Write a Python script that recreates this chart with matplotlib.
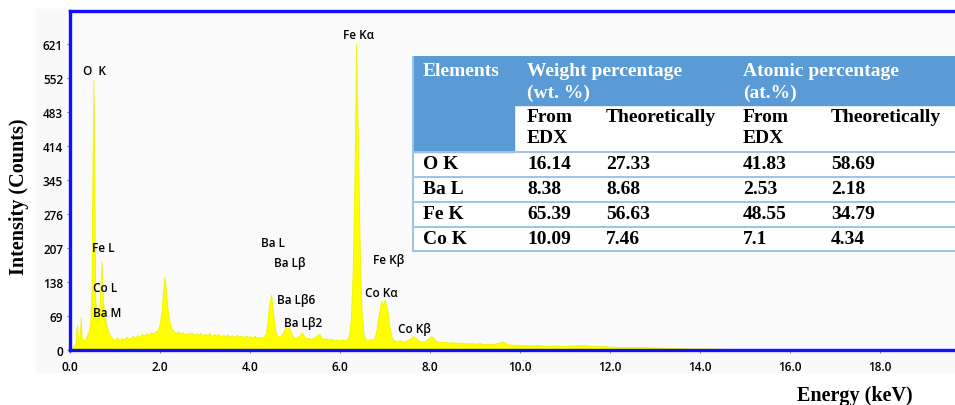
import matplotlib.pyplot as plt
from matplotlib.patches import Rectangle

# EDX spectrum (keV, counts)
energy_kev = [
    0.00, 0.04, 0.08, 0.12, 0.14, 0.16, 0.18, 0.20, 0.22, 0.24, 0.26, 0.30, 0.34, 0.38, 0.42, 0.45,
    0.48, 0.50, 0.52, 0.54, 0.56, 0.58, 0.60, 0.62, 0.64, 0.66, 0.68, 0.70, 0.72, 0.74, 0.76, 0.80,
    0.84, 0.88, 0.92, 0.96, 1.00,
    1.05, 1.10, 1.15, 1.20, 1.25, 1.30, 1.35, 1.40, 1.45, 1.50, 1.55, 1.60, 1.65, 1.70, 1.75, 1.80,
    1.85, 1.90, 1.95,
    2.00, 2.04, 2.07, 2.10, 2.13, 2.16, 2.20, 2.25, 2.30,
    2.35, 2.40, 2.45, 2.50, 2.55, 2.60, 2.65, 2.70, 2.75, 2.80, 2.85, 2.90, 2.95, 3.00, 3.05, 3.10,
    3.15, 3.20, 3.25, 3.30, 3.35, 3.40, 3.45, 3.50, 3.55, 3.60, 3.65, 3.70, 3.75, 3.80, 3.85, 3.90,
    3.95, 4.00, 4.05, 4.10, 4.15, 4.20, 4.25, 4.30, 4.35,
    4.39, 4.42, 4.45, 4.47, 4.49, 4.52, 4.55, 4.60, 4.65, 4.70, 4.75, 4.79, 4.83, 4.87, 4.91, 4.96,
    5.00, 5.05, 5.10, 5.15, 5.20, 5.25, 5.30, 5.35, 5.40, 5.45, 5.50, 5.54, 5.58, 5.62, 5.68, 5.74,
    5.80, 5.86, 5.92, 5.98, 6.04, 6.10, 6.16,
    6.20, 6.24, 6.28, 6.32, 6.36, 6.40, 6.44, 6.48, 6.52, 6.56, 6.62, 6.68, 6.74, 6.78,
    6.82, 6.86, 6.90, 6.93, 6.96, 6.99, 7.02, 7.06, 7.10, 7.14, 7.18,
    7.25, 7.32, 7.40, 7.48, 7.55, 7.62, 7.66, 7.72, 7.80, 7.88, 7.95, 8.02, 8.07, 8.14, 8.22, 8.30,
    8.40, 8.50, 8.60, 8.70, 8.80, 8.90, 9.00, 9.10, 9.20, 9.30, 9.40, 9.50, 9.58, 9.62, 9.68, 9.75,
    9.85, 10.0, 10.2, 10.4, 10.6, 10.8, 11.0, 11.2, 11.4, 11.6, 11.8, 12.0, 12.3, 12.6, 13.0, 13.4,
    13.8, 14.2, 14.6, 15.0, 15.5, 16.0, 17.0, 18.0, 19.8,
]
counts = [
    0, 3, 8, 12, 40, 51, 20, 12, 30, 67, 25, 18, 22, 30, 38, 55,
    120, 380, 548, 360, 110, 70, 55, 75, 60, 90, 140, 179, 120, 95, 70, 55,
    40, 32, 26, 22, 20,
    26, 18, 24, 21, 27, 22, 25, 29, 24, 30, 27, 33, 29, 34, 31, 36,
    33, 38, 40,
    55, 85, 120, 149, 125, 90, 62, 45, 38,
    34, 38, 33, 36, 31, 35, 32, 36, 30, 34, 31, 35, 29, 33, 30, 34,
    28, 32, 29, 33, 27, 31, 28, 32, 27, 30, 26, 31, 27, 29, 25, 30,
    26, 28, 24, 29, 25, 27, 24, 28, 32,
    55, 85, 105, 112, 95, 70, 45, 30, 26, 30, 38, 48, 52, 46, 35, 27,
    24, 26, 30, 35, 28, 23, 25, 22, 24, 26, 31, 33, 26, 22, 24, 21,
    23, 20, 22, 19, 21, 20, 22,
    28, 60, 150, 330, 621, 420, 200, 80, 35, 22, 20, 22, 21, 28,
    45, 70, 92, 100, 90, 102, 95, 75, 48, 28, 21,
    18, 20, 17, 19, 22, 28, 27, 20, 17, 18, 22, 28, 25, 18, 16, 17,
    15, 16, 14, 15, 13, 14, 13, 14, 12, 13, 12, 14, 16, 17, 14, 11,
    11, 10, 9, 10, 8, 9, 8, 9, 10, 8, 8, 7, 6, 6, 5, 4,
    3, 3, 2, 2, 1, 1, 1, 0.5, 0.5,
]

y_ticks = [0, 69, 138, 207, 276, 345, 414, 483, 552, 621]
x_ticks = [0, 2, 4, 6, 8, 10, 12, 14, 16, 18]

# peak labels: text, energy, counts
peak_names = ["O  K", "Fe Kα", "Fe L", "Co L", "Ba M", "Ba L", "Ba Lβ", "Ba Lβ6", "Ba Lβ2",
              "Fe Kβ", "Co Kα", "Co Kβ"]
peak_e = [0.29, 6.07, 0.49, 0.51, 0.51, 4.24, 4.53, 4.60, 4.76, 6.73, 6.56, 7.29]
peak_c = [568, 641, 208, 126, 77, 218, 177, 102, 55, 183, 116, 43]

# composition table
elements = ["O K", "Ba L", "Fe K", "Co K"]
wt_edx = ["16.14", "8.38", "65.39", "10.09"]
wt_theo = ["27.33", "8.68", "56.63", "7.46"]
at_edx = ["41.83", "2.53", "48.55", "7.1"]
at_theo = ["58.69", "2.18", "34.79", "4.34"]

W, H = 955, 406
fig = plt.figure(figsize=(W / 100, H / 100), dpi=100)
fig.patches.append(Rectangle((36 / W, 1 - 373 / H), 1, (373 - 10) / H,
                             transform=fig.transFigure, color="#f9f9f9", zorder=-10))

ax = fig.add_axes([70 / W, 1 - 351 / H, (W - 70) / W, (351 - 12) / H])
ax.set_facecolor("#fafafa")
ax.fill_between(energy_kev, counts, 0, color="#ffff00", lw=0.6, edgecolor="#f2f200")
ax.set_xlim(0, 19.67)
ax.set_ylim(0, 688)

blue = "#1010ff"
for s in ["left", "bottom", "top"]:
    ax.spines[s].set_color(blue)
    ax.spines[s].set_linewidth(2.4)
ax.spines["right"].set_visible(False)

tick_font = ["Open Sans", "DejaVu Sans"]
ax.set_xticks(x_ticks)
ax.set_xticklabels([f"{v:.1f}" for v in x_ticks], family=tick_font, weight="semibold")
ax.set_yticks(y_ticks)
ax.set_yticklabels([str(v) for v in y_ticks], family=tick_font, weight="semibold")
ax.tick_params(labelsize=8.5, length=2, width=0.8, color="#7080b0", labelcolor="black")
ax.tick_params(axis="x", pad=5)
ax.tick_params(axis="y", pad=3)

for name, e, c in zip(peak_names, peak_e, peak_c):
    ax.text(e, c, name, fontsize=8.5, family=tick_font, weight="semibold",
            ha="left", va="center", color="black")

serif = "Liberation Serif"
fig.text(19 / W, 1 - 197 / H, "Intensity (Counts)", rotation=90, ha="center", va="center",
         family=serif, weight="bold", fontsize=14.5)
fig.text(913 / W, 1 - 396 / H, "Energy (keV)", ha="right", va="center",
         family=serif, weight="bold", fontsize=14.5)

# table drawn in pixel coordinates
tx0, ty0, tx1, ty1 = 412, 57, 958, 253
tab = fig.add_axes([tx0 / W, 1 - ty1 / H, (tx1 - tx0) / W, (ty1 - ty0) / H])
tab.set_xlim(tx0, tx1)
tab.set_ylim(ty1, ty0)
tab.axis("off")
head = "#5b9bd5"
line = "#9dc3e6"
tab.add_patch(Rectangle((tx0, ty0), tx1 - tx0, ty1 - ty0, color="white", zorder=0))
tab.add_patch(Rectangle((tx0, ty0), tx1 - tx0, 106 - ty0, color=head, zorder=1))
tab.add_patch(Rectangle((tx0, 106), 514 - tx0, 153 - 106, color=head, zorder=1))
for yy in [153, 178, 203, 228, 252]:
    tab.plot([tx0, tx1], [yy, yy], color=line, lw=1.4, zorder=2)
tab.plot([tx0 + 0.7, tx0 + 0.7], [ty0, ty1], color=line, lw=1.4, zorder=2)

col_x = [423, 527, 606, 743, 831]
tkw = dict(family=serif, weight="bold", fontsize=14, va="center", ha="left", zorder=3)
tab.text(col_x[0], 72, "Elements", color="white", **tkw)
tab.text(col_x[1], 72, "Weight percentage", color="white", **tkw)
tab.text(col_x[1], 93, "(wt. %)", color="white", **tkw)
tab.text(col_x[3], 72, "Atomic percentage", color="white", **tkw)
tab.text(col_x[3], 93, "(at.%)", color="white", **tkw)
for cx in [col_x[1], col_x[3]]:
    tab.text(cx, 118, "From", color="black", **tkw)
    tab.text(cx, 139, "EDX", color="black", **tkw)
for cx in [col_x[2], col_x[4]]:
    tab.text(cx, 118, "Theoretically", color="black", **tkw)

row_y = [165, 190, 215, 240]
for i, ry in enumerate(row_y):
    for cx, val in zip(col_x, [elements[i], wt_edx[i], wt_theo[i], at_edx[i], at_theo[i]]):
        tab.text(cx, ry, val, color="black", **tkw)

fig.savefig("out.png", dpi=100)
